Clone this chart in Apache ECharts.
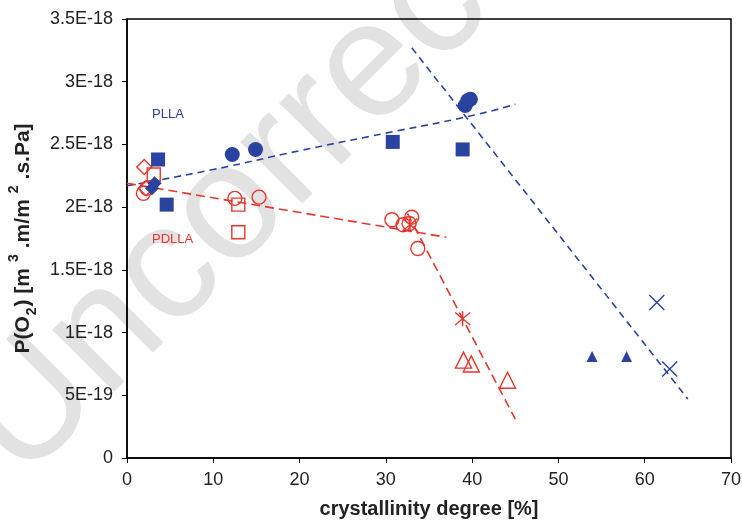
<!DOCTYPE html>
<html><head><meta charset="utf-8">
<script src="https://cdn.jsdelivr.net/npm/echarts@6/dist/echarts.min.js"></script>
<style>html,body{margin:0;padding:0;background:#fff}#c{width:742px;height:523px}</style>
</head><body><div id="c"></div>
<script>
// values in units of 1E-18 m3.m/m2.s.Pa
var yTickLabels = ['0','5E-19','1E-18','1.5E-18','2E-18','2.5E-18','3E-18','3.5E-18'];
var xTickLabels = ['0','10','20','30','40','50','60','70'];

var pllaSquares   = [[3.6,2.38],[4.6,2.02],[30.8,2.52],[38.9,2.46]];
var pllaCircles   = [[12.2,2.42],[14.9,2.46],[39.2,2.81],[39.5,2.85],[39.8,2.86]];
var pllaDiamonds  = [[3.2,2.19],[2.9,2.15]];
var pllaTriangles = [[53.9,0.81],[57.9,0.81]];
var pllaCrosses   = [[61.4,1.24],[62.9,0.71]];

var pdllaDiamonds  = [[2.0,2.32],[2.2,2.15]];
var pdllaSquares   = [[3.1,2.26],[12.9,2.02],[12.9,1.80]];
var pdllaCircles   = [[1.9,2.11],[2.3,2.15],[12.5,2.07],[15.3,2.08],[30.7,1.90],[32.0,1.86],[32.7,1.87],[33.0,1.92],[33.7,1.67]];
var pdllaStars     = [[32.8,1.86],[38.9,1.11]];
var pdllaTriangles = [[39.0,0.78],[39.9,0.75],[44.1,0.62]];

var pllaTrendLow   = [[0,2.17],[10,2.30],[20,2.45],[30,2.59],[40,2.73],[45,2.82]];
var pllaTrendSteep = [[33,3.27],[65,0.47]];
var pdllaTrendLow  = [[0,2.19],[37,1.76]];
var pdllaTrendSteep= [[32.5,1.95],[45,0.31]];

var BLUE = '#2b43a0', RED = '#e8362c';
var FONT = 'Liberation Sans';
var crossPath = 'path://M0,0L10,10M10,0L0,10';
var starPath = 'path://M0,0L10,10M10,0L0,10M5,-1L5,11';

function filled(name, data, sym, size){
  return {name:name, type:'scatter', data:data, symbol:sym, symbolSize:size, z:5,
    itemStyle:{color:BLUE, opacity:1}};
}
function hollow(name, data, sym, size, color){
  return {name:name, type:'scatter', data:data, symbol:sym, symbolSize:size, z:5,
    itemStyle:{color:'rgba(0,0,0,0)', borderColor:color, borderWidth:1.4, opacity:1}};
}
function trend(name, data, color, smooth, dash){
  return {name:name, type:'line', data:data, showSymbol:false, symbol:'none', smooth:smooth, z:4,
    lineStyle:{color:color, width:1.6, type:dash}};
}

var chart = echarts.init(document.getElementById('c'));
chart.setOption({
  animation:false,
  grid:{left:127, right:11, top:19, bottom:65, show:true, borderColor:'#000', borderWidth:1.5,
        containLabel:false, outerBoundsMode:'none'},
  graphic:[
    {type:'text', x:48, y:510, rotation:Math.PI/4, z:-10, silent:true,
     style:{text:'Uncorrected', fontSize:165, fontFamily:FONT, fill:'#e2e2e2', textVerticalAlign:'bottom'}},
    {type:'text', x:152, y:108, z:10, style:{text:'PLLA', fontSize:13, fontFamily:FONT, fill:BLUE}},
    {type:'text', x:152, y:233, z:10, style:{text:'PDLLA', fontSize:13, fontFamily:FONT, fill:RED}}
  ],
  xAxis:{type:'value', min:0, max:70, interval:10,
    name:'crystallinity degree [%]', nameLocation:'middle', nameGap:41,
    nameTextStyle:{fontSize:20, fontWeight:'bold', fontFamily:FONT, color:'#222'},
    axisLine:{lineStyle:{color:'#000', width:1.5}},
    axisTick:{show:true, length:5, lineStyle:{color:'#000'}},
    axisLabel:{fontSize:18, fontFamily:FONT, color:'#222', margin:13,
      formatter:function(v){return xTickLabels[Math.round(v/10)];}},
    splitLine:{show:false}},
  yAxis:{type:'value', min:0, max:3.5, interval:0.5,
    name:'{t|P(O}{sub|2}{t|) [m}{sup|3}{t|.m/m}{sup|2}{t|.s.Pa]}', nameLocation:'middle', nameGap:84, nameRotate:90,
    nameTextStyle:{fontSize:21, fontWeight:'bold', fontFamily:FONT, color:'#222',
      rich:{t:{fontSize:21, fontWeight:'bold', fontFamily:FONT, color:'#222', lineHeight:32, verticalAlign:'middle'},
            sub:{fontSize:14, fontWeight:'bold', fontFamily:FONT, color:'#222', verticalAlign:'bottom', lineHeight:22, padding:[0,1,0,1]},
            sup:{fontSize:14, fontWeight:'bold', fontFamily:FONT, color:'#222', verticalAlign:'top', lineHeight:14, padding:[0,6,0,6]}}},
    axisLine:{lineStyle:{color:'#000', width:1.5}},
    axisTick:{show:true, length:5, lineStyle:{color:'#000'}},
    axisLabel:{fontSize:18, fontFamily:FONT, color:'#222', margin:14,
      formatter:function(v){return yTickLabels[Math.round(v/0.5)];}},
    splitLine:{show:false}},
  series:[
    trend('pllaLow', pllaTrendLow, BLUE, true, [7,5]),
    trend('pllaSteep', pllaTrendSteep, BLUE, false, [7,5]),
    trend('pdllaLow', pdllaTrendLow, RED, false, [9,5]),
    trend('pdllaSteep', pdllaTrendSteep, RED, false, [9,5]),
    hollow('pdllaDiamonds', pdllaDiamonds, 'diamond', 15, RED),
    hollow('pdllaSquares', pdllaSquares, 'rect', 13, RED),
    hollow('pdllaCircles', pdllaCircles, 'circle', 14, RED),
    hollow('pdllaStars', pdllaStars, starPath, 15, RED),
    hollow('pdllaTriangles', pdllaTriangles, 'triangle', 16, RED),
    filled('pllaSquares', pllaSquares, 'rect', 14),
    filled('pllaCircles', pllaCircles, 'circle', 15),
    filled('pllaDiamonds', pllaDiamonds, 'diamond', 14),
    filled('pllaTriangles', pllaTriangles, 'triangle', 11),
    hollow('pllaCrosses', pllaCrosses, crossPath, 15, BLUE)
  ]
});
</script></body></html>
